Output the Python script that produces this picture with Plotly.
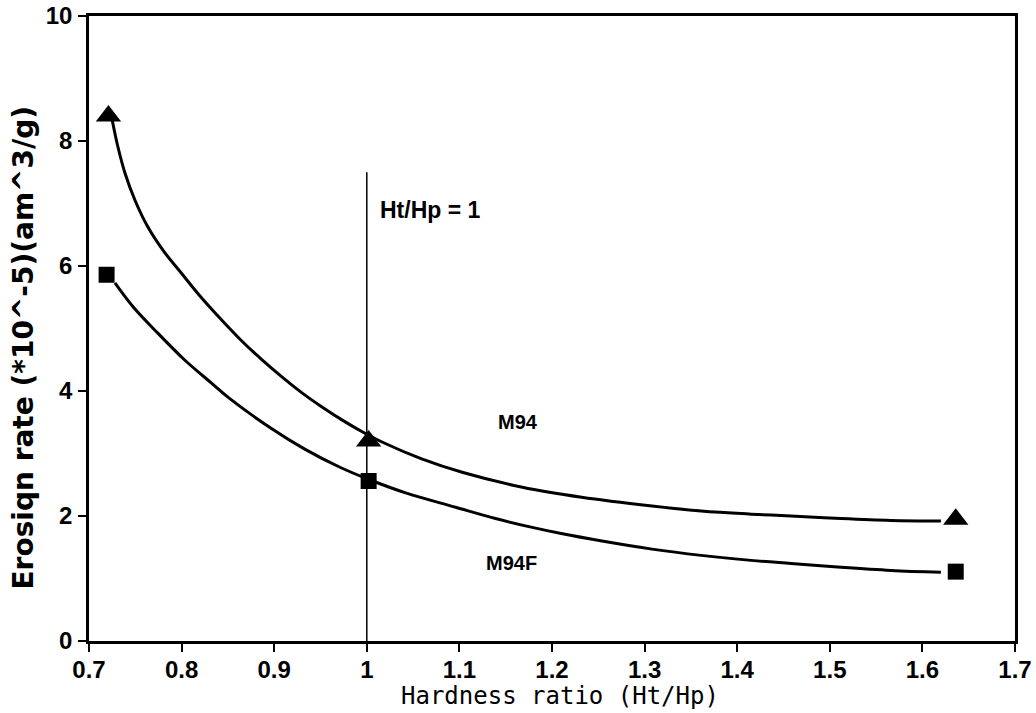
import plotly.graph_objects as go

# Measured markers
m94_x = [0.721, 1.002, 1.636]
m94_y = [8.40, 3.20, 1.95]
m94f_x = [0.719, 1.002, 1.636]
m94f_y = [5.86, 2.56, 1.11]

# Fitted curves
m94_curve_x = [0.725, 0.731, 0.739, 0.750, 0.763, 0.781, 0.799, 0.821, 0.843, 0.865,
               0.886, 0.908, 0.930, 0.952, 0.974, 0.996, 1.017, 1.060, 1.103, 1.168,
               1.232, 1.308, 1.361, 1.415, 1.458, 1.512, 1.566, 1.620]
m94_curve_y = [8.34, 7.92, 7.48, 7.04, 6.64, 6.23, 5.90, 5.50, 5.14, 4.80,
               4.51, 4.23, 3.97, 3.74, 3.53, 3.34, 3.18, 2.91, 2.70, 2.46,
               2.30, 2.16, 2.08, 2.03, 2.00, 1.96, 1.93, 1.92]
m94f_curve_x = [0.728, 0.748, 0.774, 0.803, 0.832, 0.851, 0.897, 0.933, 0.971, 1.003,
                1.042, 1.096, 1.139, 1.175, 1.210, 1.254, 1.308, 1.361, 1.415, 1.458,
                1.512, 1.566, 1.620]
m94f_curve_y = [5.73, 5.34, 4.93, 4.50, 4.13, 3.89, 3.40, 3.07, 2.78, 2.58,
                2.37, 2.14, 1.96, 1.83, 1.72, 1.60, 1.47, 1.37, 1.29, 1.24,
                1.18, 1.13, 1.10]

ref_x = [1.0, 1.0]
ref_y = [0.0, 7.5]

x_ticks = [0.7, 0.8, 0.9, 1.0, 1.1, 1.2, 1.3, 1.4, 1.5, 1.6, 1.7]
x_tick_labels = ["0.7", "0.8", "0.9", "1", "1.1", "1.2", "1.3", "1.4", "1.5", "1.6", "1.7"]
y_ticks = [0, 2, 4, 6, 8, 10]

fig = go.Figure()
fig.add_trace(go.Scatter(x=m94_curve_x, y=m94_curve_y, mode="lines",
                         line=dict(color="black", width=3, shape="spline"), showlegend=False))
fig.add_trace(go.Scatter(x=m94f_curve_x, y=m94f_curve_y, mode="lines",
                         line=dict(color="black", width=3, shape="spline"), showlegend=False))
fig.add_trace(go.Scatter(x=ref_x, y=ref_y, mode="lines",
                         line=dict(color="black", width=1.5), showlegend=False))
fig.add_trace(go.Scatter(x=m94_x, y=m94_y, mode="markers",
                         marker=dict(symbol="triangle-up", size=22, color="black"), showlegend=False))
fig.add_trace(go.Scatter(x=m94f_x, y=m94f_y, mode="markers",
                         marker=dict(symbol="square", size=16, color="black"), showlegend=False))

ann_font = dict(family="Liberation Sans", size=20, color="black", weight="bold")
fig.add_annotation(x=1.012, y=6.9, text="Ht/Hp = 1", showarrow=False, xanchor="left",
                   yanchor="middle", font=dict(family="Liberation Sans", size=23, color="black", weight="bold"))
fig.add_annotation(x=1.139, y=3.50, text="M94", showarrow=False, xanchor="left",
                   yanchor="middle", font=ann_font)
fig.add_annotation(x=1.127, y=1.25, text="M94F", showarrow=False, xanchor="left",
                   yanchor="middle", font=ann_font)

fig.add_annotation(x=-0.071, y=0.47, xref="paper", yref="paper", textangle=-90,
                   text="Erosiqn rate (*10^-5)(am^3/g)", showarrow=False,
                   xanchor="center", yanchor="middle",
                   font=dict(family="DejaVu Sans", size=28, color="black", weight="bold"))
fig.add_annotation(x=0.509, y=-0.088, xref="paper", yref="paper",
                   text="Hardness ratio (Ht/Hp)", showarrow=False,
                   xanchor="center", yanchor="middle",
                   font=dict(family="DejaVu Sans Mono", size=24, color="black"))

tick_font = dict(family="Liberation Sans", size=24, color="black", weight="bold")
fig.update_xaxes(range=[0.7, 1.7], tickvals=x_ticks, ticktext=x_tick_labels,
                 showgrid=False, zeroline=False, showline=True, linecolor="black",
                 linewidth=2.5, mirror=True, ticks="outside", ticklen=8, tickwidth=2,
                 tickcolor="black", tickfont=tick_font, ticklabelstandoff=-3,
                 automargin=False)
fig.update_yaxes(range=[0, 10], tickvals=y_ticks, showgrid=False, zeroline=False,
                 showline=True, linecolor="black", linewidth=2.5, mirror=True,
                 ticks="outside", ticklen=8, tickwidth=2, tickcolor="black",
                 tickfont=tick_font, ticklabelstandoff=1, automargin=False)
fig.update_layout(width=1036, height=713, paper_bgcolor="white", plot_bgcolor="white",
                  margin=dict(l=89, r=21, t=16, b=72, autoexpand=False))
fig.write_html("out.html", post_script="document.body.style.margin='0';",
               config={"displayModeBar": False})
